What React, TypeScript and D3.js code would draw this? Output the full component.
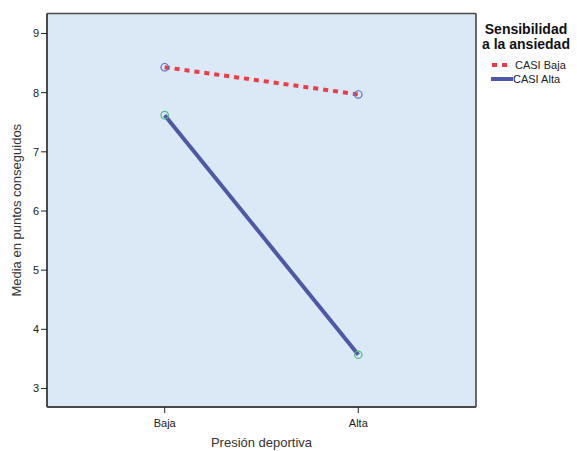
import React, { useEffect, useRef } from 'react';
import * as d3 from 'd3';

// categories on the x axis and the two series
const categories = ['Baja', 'Alta'];
const seriesNames = ['CASI Baja', 'CASI Alta'];
const casiBaja = [8.43, 7.97];
const casiAlta = [7.62, 3.57];
const yTicks = [3, 4, 5, 6, 7, 8, 9];

const App: React.FC = () => {
  const svgRef = useRef<SVGSVGElement>(null);

  useEffect(() => {
    if (!svgRef.current) return;
    const root = d3.select(svgRef.current);
    root.selectAll('*').remove();

    const width = 577;
    const height = 451;
    const left = 47;
    const right = 476;
    const top = 13.5;
    const bottom = 407;

    const font = '"Liberation Sans", Arial, sans-serif';
    const frameColor = '#4a4a4a';
    const plotFill = '#dbe9f6';

    root.attr('width', width).attr('height', height);

    const x = d3.scalePoint<string>()
      .domain(categories)
      .range([left, right])
      .padding(0.608);

    const y = d3.scaleLinear()
      .domain([2.687, 9.338])
      .range([bottom, top]);

    // plot background
    root.append('rect')
      .attr('x', left)
      .attr('y', top)
      .attr('width', right - left)
      .attr('height', bottom - top)
      .attr('fill', plotFill)
      .attr('stroke', '#9a9a9a')
      .attr('stroke-width', 1);

    // frame (left and bottom heavier)
    root.append('line')
      .attr('x1', left).attr('x2', left)
      .attr('y1', top).attr('y2', bottom)
      .attr('stroke', frameColor).attr('stroke-width', 2);
    root.append('line')
      .attr('x1', left).attr('x2', right)
      .attr('y1', bottom).attr('y2', bottom)
      .attr('stroke', frameColor).attr('stroke-width', 2);
    root.append('line')
      .attr('x1', left).attr('x2', right)
      .attr('y1', top).attr('y2', top)
      .attr('stroke', frameColor).attr('stroke-width', 1.5);
    root.append('line')
      .attr('x1', right).attr('x2', right)
      .attr('y1', top).attr('y2', bottom)
      .attr('stroke', frameColor).attr('stroke-width', 1.5);

    // y ticks
    yTicks.forEach(t => {
      root.append('line')
        .attr('x1', left - 6).attr('x2', left)
        .attr('y1', y(t)).attr('y2', y(t))
        .attr('stroke', '#222').attr('stroke-width', 1);
      root.append('text')
        .attr('x', left - 8)
        .attr('y', y(t) + 4)
        .attr('text-anchor', 'end')
        .attr('font-family', font)
        .attr('font-size', 11)
        .attr('fill', '#222')
        .text(t);
    });

    // x ticks
    categories.forEach(c => {
      root.append('line')
        .attr('x1', x(c)!).attr('x2', x(c)!)
        .attr('y1', bottom).attr('y2', bottom + 6)
        .attr('stroke', '#222').attr('stroke-width', 1);
      root.append('text')
        .attr('x', x(c)!)
        .attr('y', bottom + 20)
        .attr('text-anchor', 'middle')
        .attr('font-family', font)
        .attr('font-size', 11)
        .attr('fill', '#222')
        .text(c);
    });

    // axis titles
    root.append('text')
      .attr('x', (left + right) / 2)
      .attr('y', 447)
      .attr('text-anchor', 'middle')
      .attr('font-family', font)
      .attr('font-size', 13)
      .attr('fill', '#333')
      .text('Presión deportiva');

    root.append('text')
      .attr('transform', `translate(21,${(top + bottom) / 2}) rotate(-90)`)
      .attr('text-anchor', 'middle')
      .attr('font-family', font)
      .attr('font-size', 13)
      .attr('fill', '#333')
      .text('Media en puntos conseguidos');

    // series
    const line = d3.line<number>()
      .x((_, i) => x(categories[i])!)
      .y(d => y(d));

    const series = [
      { name: seriesNames[0], values: casiBaja, color: '#ef3b45', dash: '5,5', marker: '#5b6bc4' },
      { name: seriesNames[1], values: casiAlta, color: '#4f58a8', dash: null, marker: '#4cbb7c' },
    ];

    series.forEach(s => {
      root.append('path')
        .attr('d', line(s.values))
        .attr('fill', 'none')
        .attr('stroke', s.color)
        .attr('stroke-width', 4)
        .attr('stroke-dasharray', s.dash);
      s.values.forEach((v, i) => {
        root.append('circle')
          .attr('cx', x(categories[i])!)
          .attr('cy', y(v))
          .attr('r', 3.7)
          .attr('fill', 'none')
          .attr('stroke', s.marker)
          .attr('stroke-width', 1.2);
      });
    });

    // legend
    const legendCx = 526;
    root.append('text')
      .attr('x', legendCx)
      .attr('y', 34)
      .attr('text-anchor', 'middle')
      .attr('font-family', font)
      .attr('font-size', 14)
      .attr('font-weight', 'bold')
      .attr('fill', '#111')
      .text('Sensibilidad');
    root.append('text')
      .attr('x', legendCx)
      .attr('y', 49)
      .attr('text-anchor', 'middle')
      .attr('font-family', font)
      .attr('font-size', 14)
      .attr('font-weight', 'bold')
      .attr('fill', '#111')
      .text('a la ansiedad');

    series.forEach((s, i) => {
      const ly = 65 + i * 14;
      root.append('line')
        .attr('x1', i === 0 ? 492 : 491)
        .attr('x2', i === 0 ? 510 : 513)
        .attr('y1', ly).attr('y2', ly)
        .attr('stroke', s.color)
        .attr('stroke-width', 4)
        .attr('stroke-dasharray', s.dash);
      root.append('text')
        .attr('x', i === 0 ? 515 : 513)
        .attr('y', ly + 4)
        .attr('font-family', font)
        .attr('font-size', 11)
        .attr('fill', '#222')
        .text(s.name);
    });
  }, []);

  return (
    <svg ref={svgRef} style={{ position: 'absolute', left: 0, top: 0, display: 'block' }}></svg>
  );
};

export default App;
